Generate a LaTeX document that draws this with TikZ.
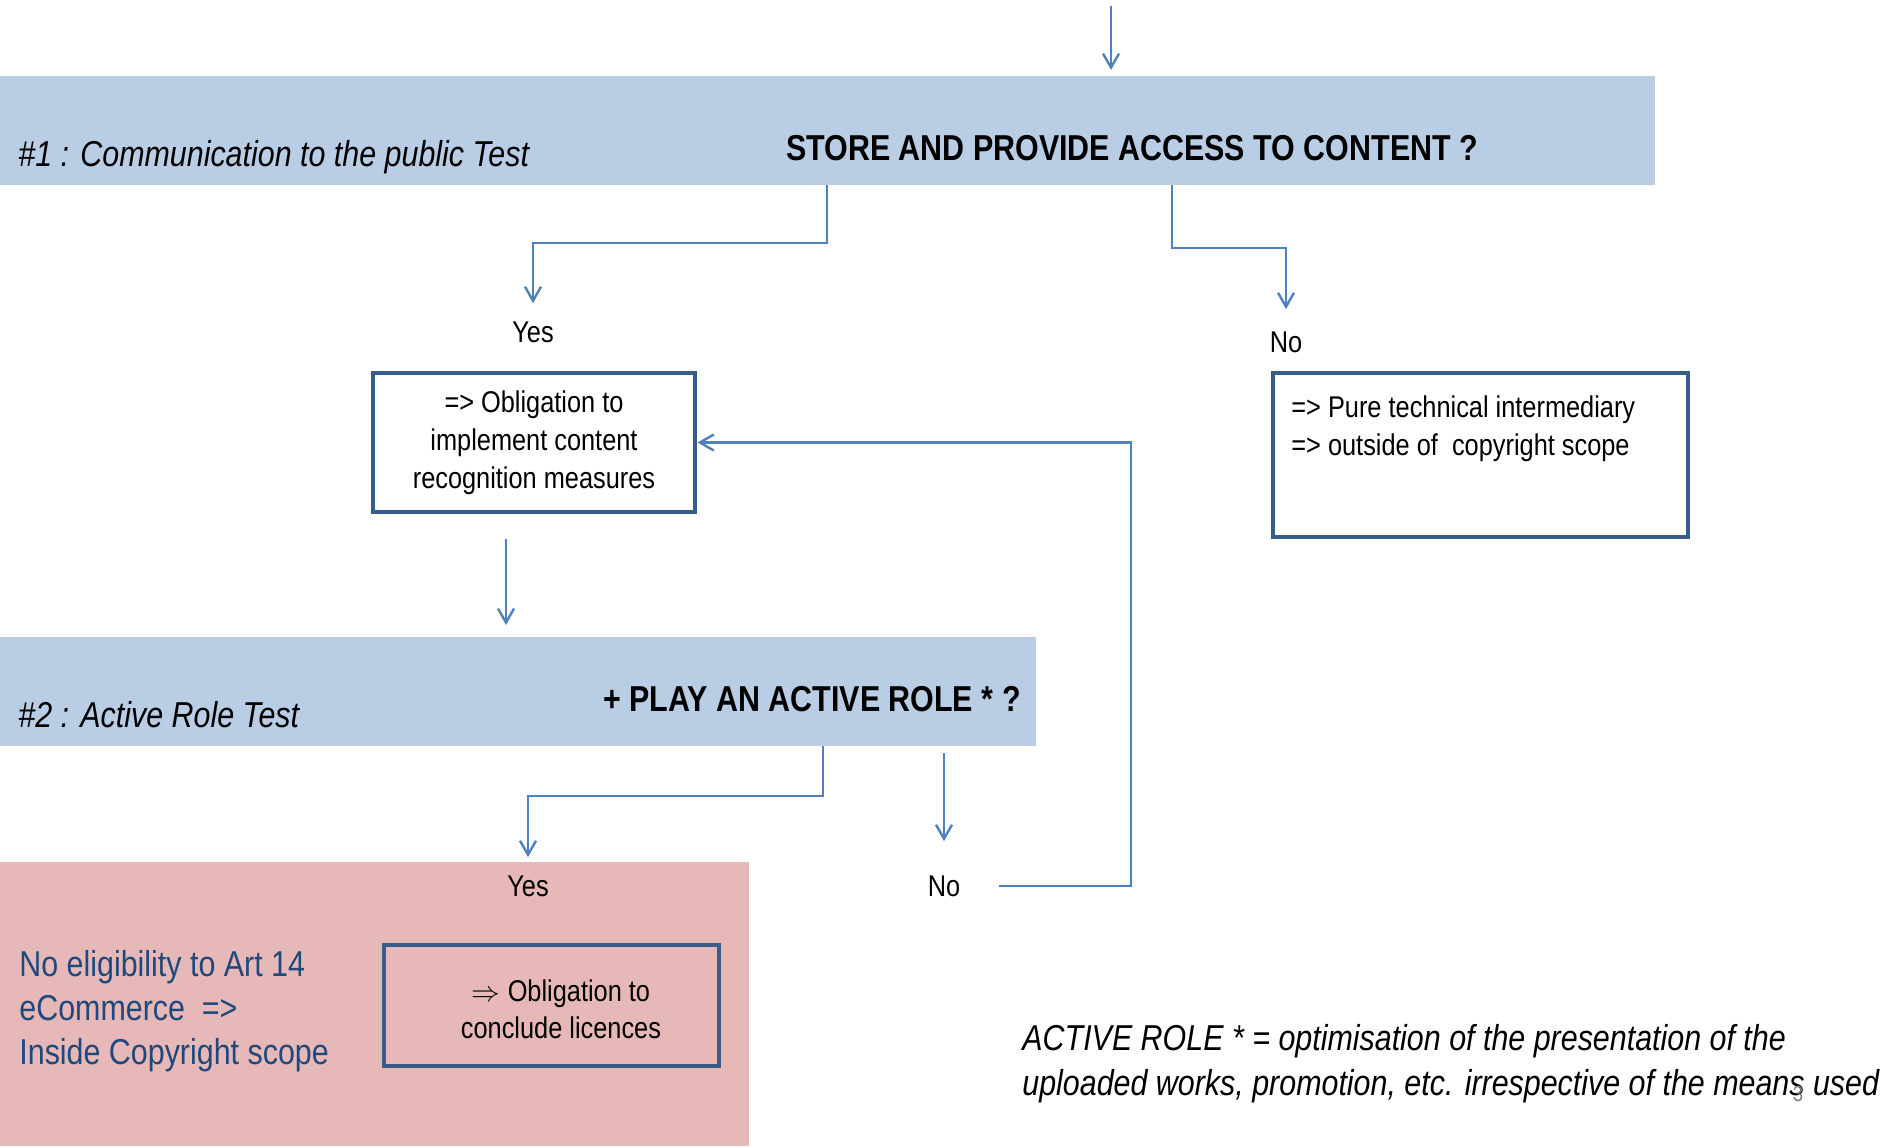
\documentclass[tikz,border=0pt]{standalone}
\usepackage{fontspec}
\setmainfont[FakeStretch=0.845]{Liberation Sans}
\usetikzlibrary{arrows.meta}

\definecolor{bandblue}{HTML}{B9CDE5}
\definecolor{rosefill}{HTML}{E6B9B8}
\definecolor{linkblue}{HTML}{4F81BD}
\definecolor{boxblue}{HTML}{385D8A}
\definecolor{noteblue}{HTML}{1F497D}

\tikzset{
  flow/.style={draw=linkblue, line width=1.2pt, -{Straight Barb[length=7pt,width=8pt]}},
  band/.style={fill=bandblue, anchor=north west, inner sep=0, minimum height=54.5pt},
  decision/.style={draw=boxblue, line width=2.4pt, align=center, font=\fontsize{15}{19}\selectfont},
  lbl/.style={inner sep=0, font=\fontsize{15}{19}\selectfont},
  title/.style={inner sep=0, font=\fontsize{18}{22.4}\selectfont\itshape},
  ask/.style={inner sep=0, font=\fontsize{18}{22}\selectfont\bfseries},
}

\begin{document}
\begin{tikzpicture}[x=0.5pt, y=-0.5pt] % one unit per pixel, y runs down

    \useasboundingbox (0,0) rectangle (1895,1146);

    % Bands
    \node[band, minimum width=827.5pt] (test1) at (0,76) {};
    \node[band, minimum width=518pt] (test2) at (0,637) {};
    \node[band, fill=rosefill, minimum width=374.5pt, minimum height=142pt] (verdict) at (0,862) {};

    % Band texts
    \node[title, anchor=west] (name1) at (18,157) {\#1 : Communication to the public Test};
    \node[ask] (ask1) at (1132,148) {STORE AND PROVIDE ACCESS TO CONTENT ?};
    \node[title, anchor=west] (name2) at (18,715) {\#2 : Active Role Test};
    \node[ask, anchor=east] (ask2) at (1021,699) {+ PLAY AN ACTIVE ROLE * ?};

    % Answers
    \node[lbl] (yes1) at (533,332) {Yes};
    \node[lbl] (no1) at (1286,342) {No};
    \node[lbl] (yes2) at (528,886) {Yes};
    \node[lbl] (no2) at (944,886) {No};

    % Boxes
    \node[decision, fill=white, minimum width=161pt, minimum height=69.5pt] (measures) at (534,442.5)
      {=> Obligation to\\implement content\\recognition measures};
    \node[decision, minimum width=207.5pt, minimum height=82pt] (pure) at (1480.5,455) {};
    \node[lbl, align=left, anchor=north west] (puretxt) at (1291,395)
      {=> Pure technical intermediary\\=> outside of~ copyright scope};
    \node[decision, minimum width=167.5pt, minimum height=60.5pt] (licence) at (551.5,1005.5) {};
    \node[lbl, align=center, font=\fontsize{15}{18.5}\selectfont] (licencetxt) at (561,1009)
      {$\Rightarrow$ Obligation to\\conclude licences};

    % Notes
    \node[title, font=\fontsize{18}{22}\selectfont, text=noteblue, anchor=west, align=left] (outcome) at (19,1011)
      {No eligibility to Art 14\\eCommerce~ =>\\Inside Copyright scope};
    \node[title, anchor=west, align=left] (activenote) at (1022,1064)
      {ACTIVE ROLE * = optimisation of the presentation of the\\uploaded works, promotion, etc. irrespective of the means used};
    \node[text=gray, font=\fontsize{11}{13}\selectfont] (pageno) at (1798,1094) {3};

    % Connectors
    \coordinate (in) at (1111,6);
    \coordinate (fork1) at (827,185);
    \coordinate (fork2) at (1172,185);
    \coordinate (down1) at (506,539);
    \coordinate (fork3) at (823,746);
    \coordinate (fork4) at (944,753);
    \coordinate (loop) at (1131,442.5);

    \draw[flow, shorten >=3pt] (in) -- (in |- test1.north);
    \draw[flow, shorten >=9pt] (fork1) -- ++(0,58) -| (yes1);
    \draw[flow, shorten >=11pt] (fork2) -- ++(0,63) -| (no1);
    \draw[flow, shorten >=6pt] (down1) -- (down1 |- test2.north);
    \draw[flow, shorten >=9pt] (fork3) -- ++(0,50) -| (yes2);
    \draw[flow, shorten >=17pt] (fork4) -- (no2);
    \draw[flow, shorten <=19pt] (no2.east) -| (loop) -- (measures.east);

\end{tikzpicture}
\end{document}
